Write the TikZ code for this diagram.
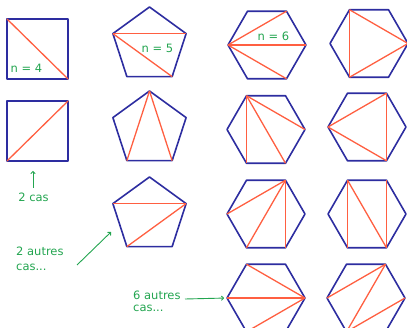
\documentclass[tikz,border=0pt]{standalone}
\usepackage{fontspec}
\setmainfont{DejaVu Sans}
\usetikzlibrary{arrows.meta}
\definecolor{pblue}{RGB}{45,45,160}
\definecolor{pred}{RGB}{255,95,65}
\definecolor{pgreen}{RGB}{35,165,80}
\newcommand\mkhex[3]{%
  \foreach \a/\n in {0/R,60/BR,120/BL,180/L,240/TL,300/TR}{%
    \coordinate (#1-\n) at ({#2+39*cos(\a)},{#3+39*sin(\a)});}
  \draw[poly] (#1-R)--(#1-BR)--(#1-BL)--(#1-L)--(#1-TL)--(#1-TR)--cycle;}
\newcommand\mkpent[3]{%
  \foreach \a/\n in {270/T,342/UR,54/BR,126/BL,198/UL}{%
    \coordinate (#1-\n) at ({#2+38.5*cos(\a)},{#3+38.5*sin(\a)});}
  \draw[poly] (#1-T)--(#1-UR)--(#1-BR)--(#1-BL)--(#1-UL)--cycle;}
\newcommand\mksq[5]{%
  \coordinate (#1-TL) at (#2,#3); \coordinate (#1-TR) at (#4,#3);
  \coordinate (#1-BR) at (#4,#5); \coordinate (#1-BL) at (#2,#5);
  \draw[poly] (#1-TL)--(#1-TR)--(#1-BR)--(#1-BL)--cycle;}
\begin{document}
\begin{tikzpicture}[x=1pt,y=-1pt,
  poly/.style={draw=pblue,line width=1.6pt,line join=round},
  diag/.style={draw=pred,line width=1.3pt},
  lbl/.style={text=pgreen,font=\fontsize{11.5}{12}\selectfont,inner sep=0pt},
  note/.style={lbl,anchor=west},
  arr/.style={draw=pgreen,line width=0.9pt,-{To[length=3pt,width=5pt]}}]
\useasboundingbox (0,0) rectangle (407,328);
% squares
\mksq{sa}{7}{19}{68}{79}
\mksq{sb}{7}{101}{68}{161}
% pentagons
\mkpent{pa}{149.5}{45.5}
\mkpent{pb}{149.5}{129.5}
\mkpent{pc}{149.5}{215.5}
% hexagons
\mkhex{ha}{267}{45}
\mkhex{hb}{369}{43.5}
\mkhex{hc}{266}{129.5}
\mkhex{hd}{367}{127}
\mkhex{he}{266}{214}
\mkhex{hf}{367}{214}
\mkhex{hg}{266}{298}
\mkhex{hh}{366}{298}
% diagonals
\draw[diag] (sa-TL) -- (sa-BR);
\draw[diag] (sb-BL) -- (sb-TR);
\draw[diag] (pa-UL) -- (pa-UR);
\draw[diag] (pa-UL) -- (pa-BR);
\draw[diag] (pb-T) -- (pb-BL);
\draw[diag] (pb-T) -- (pb-BR);
\draw[diag] (pc-UL) -- (pc-UR);
\draw[diag] (pc-UR) -- (pc-BL);
\draw[diag] (ha-L) -- (ha-TR);
\draw[diag] (ha-L) -- (ha-R);
\draw[diag] (ha-L) -- (ha-BR);
\draw[diag] (hb-TL) -- (hb-BL);
\draw[diag] (hb-TL) -- (hb-R);
\draw[diag] (hb-BL) -- (hb-R);
\draw[diag] (hc-TL) -- (hc-BL);
\draw[diag] (hc-TL) -- (hc-R);
\draw[diag] (hc-TL) -- (hc-BR);
\draw[diag] (hd-L) -- (hd-TR);
\draw[diag] (hd-L) -- (hd-BR);
\draw[diag] (hd-TR) -- (hd-BR);
\draw[diag] (he-TR) -- (he-L);
\draw[diag] (he-TR) -- (he-BL);
\draw[diag] (he-TR) -- (he-BR);
\draw[diag] (hf-TL) -- (hf-BL);
\draw[diag] (hf-TL) -- (hf-BR);
\draw[diag] (hf-TR) -- (hf-BR);
\draw[diag] (hg-TL) -- (hg-R);
\draw[diag] (hg-L) -- (hg-R);
\draw[diag] (hg-BL) -- (hg-R);
\draw[diag] (hh-TR) -- (hh-L);
\draw[diag] (hh-TR) -- (hh-BL);
\draw[diag] (hh-R) -- (hh-BL);
% labels
\node[lbl] (n4) at (26.5,68) {n = 4};
\node[lbl] (n5) at (157.5,48) {n = 5};
\node[lbl] (n6) at (273.5,36.5) {n = 6};
\node[lbl] (c2) at (33.5,197) {2 cas};
\node[note] (a2) at (16,251) {2 autres};
\node[note] (a2b) at (16,267) {cas...};
\node[note] (a6) at (133,295.5) {6 autres};
\node[note] (a6b) at (133,308) {cas...};
% arrows
\coordinate (c2s) at (33,188);
\coordinate (c2e) at (33,171);
\draw[arr] (c2s) -- (c2e);
\coordinate (a2s) at (77,265);
\coordinate (a2e) at (111,232);
\draw[arr] (a2s) -- (a2e);
\coordinate (a6s) at (185,299);
\draw[arr,shorten >=3pt] (a6s) -- (hg-L);
\end{tikzpicture}
\end{document}
